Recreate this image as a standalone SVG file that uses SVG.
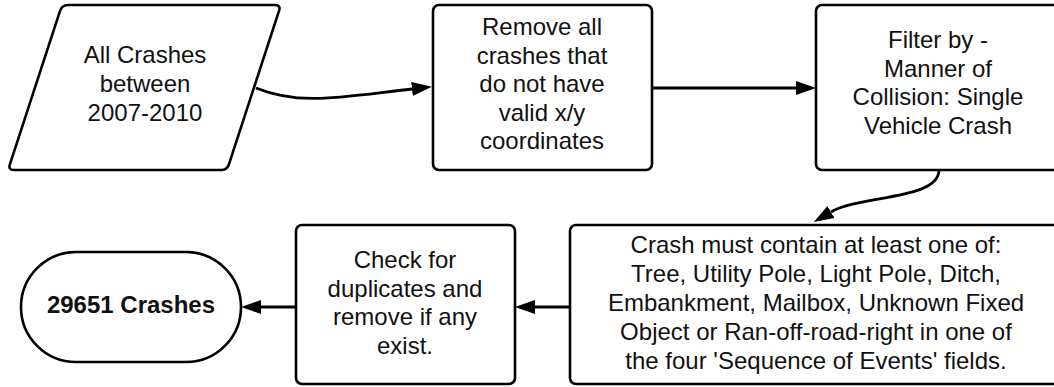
<svg xmlns="http://www.w3.org/2000/svg" width="1054" height="387" viewBox="0 0 1054 387">
<defs>
<style>
.shape{fill:#fff;stroke:#000;stroke-width:2.6;stroke-linejoin:round}
.t{font-family:"Liberation Sans",Arial,sans-serif;font-size:24px;fill:#111;text-anchor:middle}
.b{font-weight:bold}
.edge{fill:none;stroke:#000;stroke-width:2.8}
</style>
<marker id="ah" markerWidth="21" markerHeight="15" refX="0" refY="7.5" orient="auto" markerUnits="userSpaceOnUse">
<path d="M0,0.5 L20,7.5 L0,14.5 Z" fill="#000"/>
</marker>
</defs>
<rect width="1054" height="387" fill="#fff"/>
<g id="connectors">
<path class="edge" d="M256,88 C300,106 340,97 412,89" marker-end="url(#ah)"/>
<path class="edge" d="M652,88 L796,88" marker-end="url(#ah)"/>
<path class="edge" d="M939,170 C939,200 860,195 831,212" marker-end="url(#ah)"/>
<path class="edge" d="M570,307 L535,307" marker-end="url(#ah)"/>
<path class="edge" d="M296,307 L261,307" marker-end="url(#ah)"/>
</g>
<g id="n1">
<path class="shape" d="M68,5 L275,5 Q281,5 279.1,10.7 L228.9,164.3 Q227,170 221,170 L14,170 Q8,170 9.9,164.3 L60.1,10.7 Q62,5 68,5 Z"/>
<text class="t" x="145" y="63">All Crashes</text>
<text class="t" x="145" y="92">between</text>
<text class="t" x="145" y="121">2007-2010</text>
</g>
<g id="n2">
<rect class="shape" x="433" y="5" width="219" height="165" rx="6"/>
<text class="t" x="542" y="35">Remove all</text>
<text class="t" x="542" y="63.5">crashes that</text>
<text class="t" x="542" y="92">do not have</text>
<text class="t" x="542" y="120.5">valid x/y</text>
<text class="t" x="542" y="149">coordinates</text>
</g>
<g id="n3">
<rect class="shape" x="816" y="5" width="250" height="165" rx="6"/>
<text class="t" x="938" y="48">Filter by -</text>
<text class="t" x="938" y="76.5">Manner of</text>
<text class="t" x="938" y="105">Collision: Single</text>
<text class="t" x="938" y="133.5">Vehicle Crash</text>
</g>
<g id="n4">
<rect class="shape" x="570" y="225" width="500" height="159" rx="6"/>
<text class="t" x="816" y="253">Crash must contain at least one of:</text>
<text class="t" x="816" y="282">Tree, Utility Pole, Light Pole, Ditch,</text>
<text class="t" x="816" y="311">Embankment, Mailbox, Unknown Fixed</text>
<text class="t" x="816" y="340">Object or Ran-off-road-right in one of</text>
<text class="t" x="816" y="369">the four 'Sequence of Events' fields.</text>
</g>
<g id="n5">
<rect class="shape" x="296" y="225" width="219" height="159" rx="6"/>
<text class="t" x="405" y="268">Check for</text>
<text class="t" x="405" y="296.5">duplicates and</text>
<text class="t" x="405" y="325">remove if any</text>
<text class="t" x="405" y="353.5">exist.</text>
</g>
<g id="n6">
<rect class="shape" x="21" y="252" width="220" height="110" rx="55"/>
<text class="t b" x="131" y="313">29651 Crashes</text>
</g>
</svg>
